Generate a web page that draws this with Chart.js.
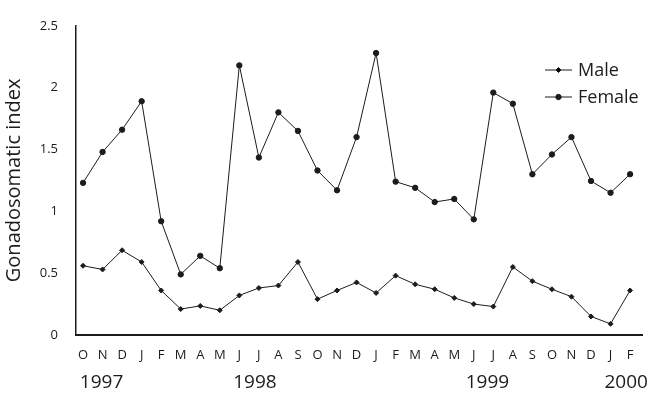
<!DOCTYPE html>
<html>
<head>
<meta charset="utf-8">
<script src="https://cdn.jsdelivr.net/npm/chart.js@4.4.1/dist/chart.umd.min.js"></script>
<style>
  html, body { margin: 0; padding: 0; background: #fff; }
  #wrap { width: 661px; height: 410px; }
</style>
</head>
<body>
<div id="wrap"><canvas id="gsiChart" width="661" height="410"></canvas></div>
<script>
// months from Oct 1997 to Feb 2000
const months = ['O','N','D','J','F','M','A','M','J','J','A','S','O','N','D',
                'J','F','M','A','M','J','J','A','S','O','N','D','J','F'];

const maleGSI = [0.56, 0.53, 0.685, 0.59, 0.36, 0.21, 0.235, 0.20, 0.32, 0.38, 0.40, 0.59, 0.29, 0.36, 0.425,
                 0.34, 0.48, 0.41, 0.37, 0.30, 0.25, 0.23, 0.55, 0.435, 0.37, 0.31, 0.15, 0.09, 0.36];

const femaleGSI = [1.23, 1.48, 1.66, 1.89, 0.92, 0.49, 0.64, 0.54, 2.18, 1.435, 1.80, 1.65, 1.33, 1.17, 1.60,
                   2.28, 1.24, 1.19, 1.075, 1.10, 0.935, 1.96, 1.87, 1.30, 1.46, 1.60, 1.245, 1.15, 1.30];

const yTicks = [0, 0.5, 1, 1.5, 2, 2.5];

// year labels, placed under the month index they sit near
const yearLabels = ['1997', '1998', '1999', '2000'];
const yearPos = [0.95, 8.8, 20.7, 27.8];

const ink = '#1c1c1c';
const fontFam = '"Open Sans", "Noto Sans", sans-serif';

// legend drawn inside the plot, top right
const innerLegend = {
  id: 'innerLegend',
  afterDraw(chart) {
    const c = chart.ctx;
    c.save();
    chart.data.datasets.forEach((ds, i) => {
      const y = 70 + i * 27;
      const x0 = 545, x1 = 572;
      c.strokeStyle = ink;
      c.lineWidth = 1;
      c.beginPath();
      c.moveTo(x0, y);
      c.lineTo(x1, y);
      c.stroke();
      Chart.helpers.drawPoint(c, {
        pointStyle: ds.pointStyle,
        radius: ds.pointRadius,
        rotation: 0,
        borderWidth: 1
      }, (x0 + x1) / 2, y);
      c.fillStyle = ink;
      c.font = '18px ' + fontFam;
      c.textBaseline = 'middle';
      c.textAlign = 'left';
      c.fillText(ds.label, 578, y + 1);
    });
    c.restore();
  }
};

// years under the month letters
const yearRow = {
  id: 'yearRow',
  afterDraw(chart) {
    const c = chart.ctx;
    const xs = chart.scales.x;
    c.save();
    c.fillStyle = ink;
    c.font = '19px ' + fontFam;
    c.textAlign = 'center';
    c.textBaseline = 'middle';
    yearLabels.forEach((lab, i) => {
      c.fillText(lab, xs.getPixelForValue(yearPos[i]), 383);
    });
    c.restore();
  }
};

const ctx = document.getElementById('gsiChart').getContext('2d');
const gsiChart = new Chart(ctx, {
  type: 'line',
  data: {
    datasets: [{
      label: 'Male',
      data: maleGSI.map((v, i) => ({ x: i, y: v })),
      borderColor: ink,
      backgroundColor: ink,
      borderWidth: 1,
      pointStyle: 'rectRot',
      pointRadius: 2.5,
      pointBorderWidth: 1,
      tension: 0
    }, {
      label: 'Female',
      data: femaleGSI.map((v, i) => ({ x: i, y: v })),
      borderColor: ink,
      backgroundColor: ink,
      borderWidth: 1,
      pointStyle: 'circle',
      pointRadius: 2.7,
      pointBorderWidth: 1,
      tension: 0
    }]
  },
  options: {
    responsive: false,
    animation: false,
    devicePixelRatio: 1,
    layout: { padding: { left: 0, right: 19, top: 25, bottom: 0 } },
    plugins: {
      legend: { display: false },
      tooltip: { enabled: false }
    },
    scales: {
      x: {
        type: 'linear',
        min: -0.36,
        max: 28.61,
        afterBuildTicks: (scale) => { scale.ticks = months.map((m, i) => ({ value: i })); },
        afterFit: (scale) => { scale.height = 75; },
        grid: { display: false, drawTicks: false },
        border: { display: true, color: ink, width: 2 },
        ticks: {
          autoSkip: false,
          maxRotation: 0,
          padding: 12,
          color: ink,
          font: { family: fontFam, size: 13 },
          callback: (v) => months[v]
        }
      },
      y: {
        min: 0,
        max: 2.5,
        afterBuildTicks: (scale) => { scale.ticks = yTicks.map(v => ({ value: v })); },
        afterFit: (scale) => { scale.width = 76; },
        grid: { display: false, drawTicks: false },
        border: { display: true, color: ink, width: 1.5 },
        ticks: {
          padding: 18,
          color: ink,
          font: { family: fontFam, size: 13 },
          callback: (v) => String(v)
        },
        title: {
          display: true,
          text: 'Gonadosomatic index',
          color: ink,
          font: { family: fontFam, size: 20 },
          padding: { top: 2, bottom: 0 }
        }
      }
    }
  },
  plugins: [innerLegend, yearRow]
});
</script>
</body>
</html>
